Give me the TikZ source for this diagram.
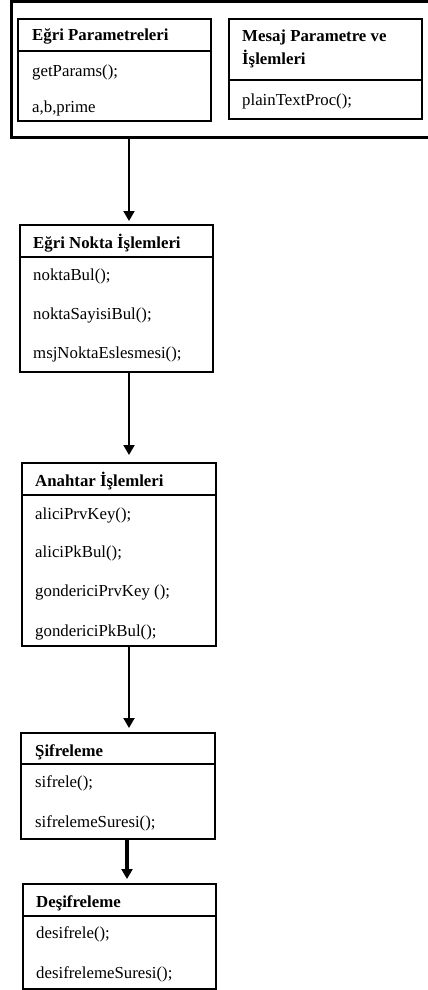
\documentclass[tikz,border=0pt]{standalone}
\usepackage{fontspec}
\setmainfont{Liberation Serif}
\usetikzlibrary{arrows.meta}
\tikzset{
  box/.style={draw, line width=1.8pt, inner sep=0pt, outer sep=0pt, anchor=north west},
  outerbox/.style={draw, line width=3pt, inner sep=0pt, outer sep=0pt, anchor=north west},
  txt/.style={anchor=base west, inner sep=0pt, font=\fontsize{16.8}{19}\selectfont},
  ttl/.style={anchor=base west, inner sep=0pt, font=\fontsize{16.8}{19}\selectfont\bfseries},
  divline/.style={line width=1.5pt},
  arr/.style={line width=2pt, -{Triangle[width=11pt,length=10pt]}}
}
\begin{document}
\begin{tikzpicture}[x=1pt,y=-1pt]
\useasboundingbox (0,0) rectangle (428,990);
% outer container
\node[outerbox, minimum width=425pt, minimum height=136pt] (outer) at (11,1.5) {};
% Egri Parametreleri
\node[box, minimum width=193pt, minimum height=102pt] (ep) at (18,19) {};
\draw[divline] (ep.west |- 0,51) -- (ep.east |- 0,51);
\node[ttl] (ept) at (32,41) {Eğri Parametreleri};
\node[txt] (ep1) at (32,76) {getParams();};
\node[txt] (ep2) at (32,112.5) {a,b,prime};
% Mesaj Parametre
\node[box, minimum width=193pt, minimum height=100pt] (mp) at (229,19) {};
\draw[divline] (mp.west |- 0,80) -- (mp.east |- 0,80);
\node[ttl] (mpt1) at (242,42) {Mesaj Parametre ve};
\node[ttl] (mpt2) at (242,64) {İşlemleri};
\node[txt] (mp1) at (242,105) {plainTextProc();};
% Egri Nokta Islemleri
\node[box, minimum width=193pt, minimum height=147pt] (nk) at (20,225) {};
\draw[divline] (nk.west |- 0,257) -- (nk.east |- 0,257);
\node[ttl] (nkt) at (33,248) {Eğri Nokta İşlemleri};
\node[txt] (nk1) at (33,280) {noktaBul();};
\node[txt] (nk2) at (33,319) {noktaSayisiBul();};
\node[txt] (nk3) at (33,358) {msjNoktaEslesmesi();};
% Anahtar Islemleri
\node[box, minimum width=194pt, minimum height=183pt] (an) at (22,463) {};
\draw[divline] (an.west |- 0,495) -- (an.east |- 0,495);
\node[ttl] (ant) at (35,486) {Anahtar İşlemleri};
\node[txt] (an1) at (35,519) {aliciPrvKey();};
\node[txt] (an2) at (35,557) {aliciPkBul();};
\node[txt] (an3) at (35,596) {gondericiPrvKey ();};
\node[txt] (an4) at (35,636) {gondericiPkBul();};
% Sifreleme
\node[box, minimum width=194pt, minimum height=106pt] (sf) at (21,733) {};
\draw[divline] (sf.west |- 0,764) -- (sf.east |- 0,764);
\node[ttl] (sft) at (35,756) {Şifreleme};
\node[txt] (sf1) at (35,787) {sifrele();};
\node[txt] (sf2) at (35,827) {sifrelemeSuresi();};
% Desifreleme
\node[box, minimum width=193pt, minimum height=105pt] (ds) at (23,884) {};
\draw[divline] (ds.west |- 0,916) -- (ds.east |- 0,916);
\node[ttl] (dst) at (36,907) {Deşifreleme};
\node[txt] (ds1) at (36,938) {desifrele();};
\node[txt] (ds2) at (36,978) {desifrelemeSuresi();};
% connectors
\coordinate (ax) at (129,0);
\coordinate (bx) at (127,0);
\draw[arr, shorten >=4pt] (outer.south -| ax) -- (nk.north -| ax);
\draw[arr, shorten >=8pt] (nk.south -| ax) -- (an.north -| ax);
\draw[arr, shorten >=5pt] (an.south -| ax) -- (sf.north -| ax);
\draw[arr, line width=3.5pt, shorten >=5pt] (sf.south -| bx) -- (ds.north -| bx);
\end{tikzpicture}
\end{document}
